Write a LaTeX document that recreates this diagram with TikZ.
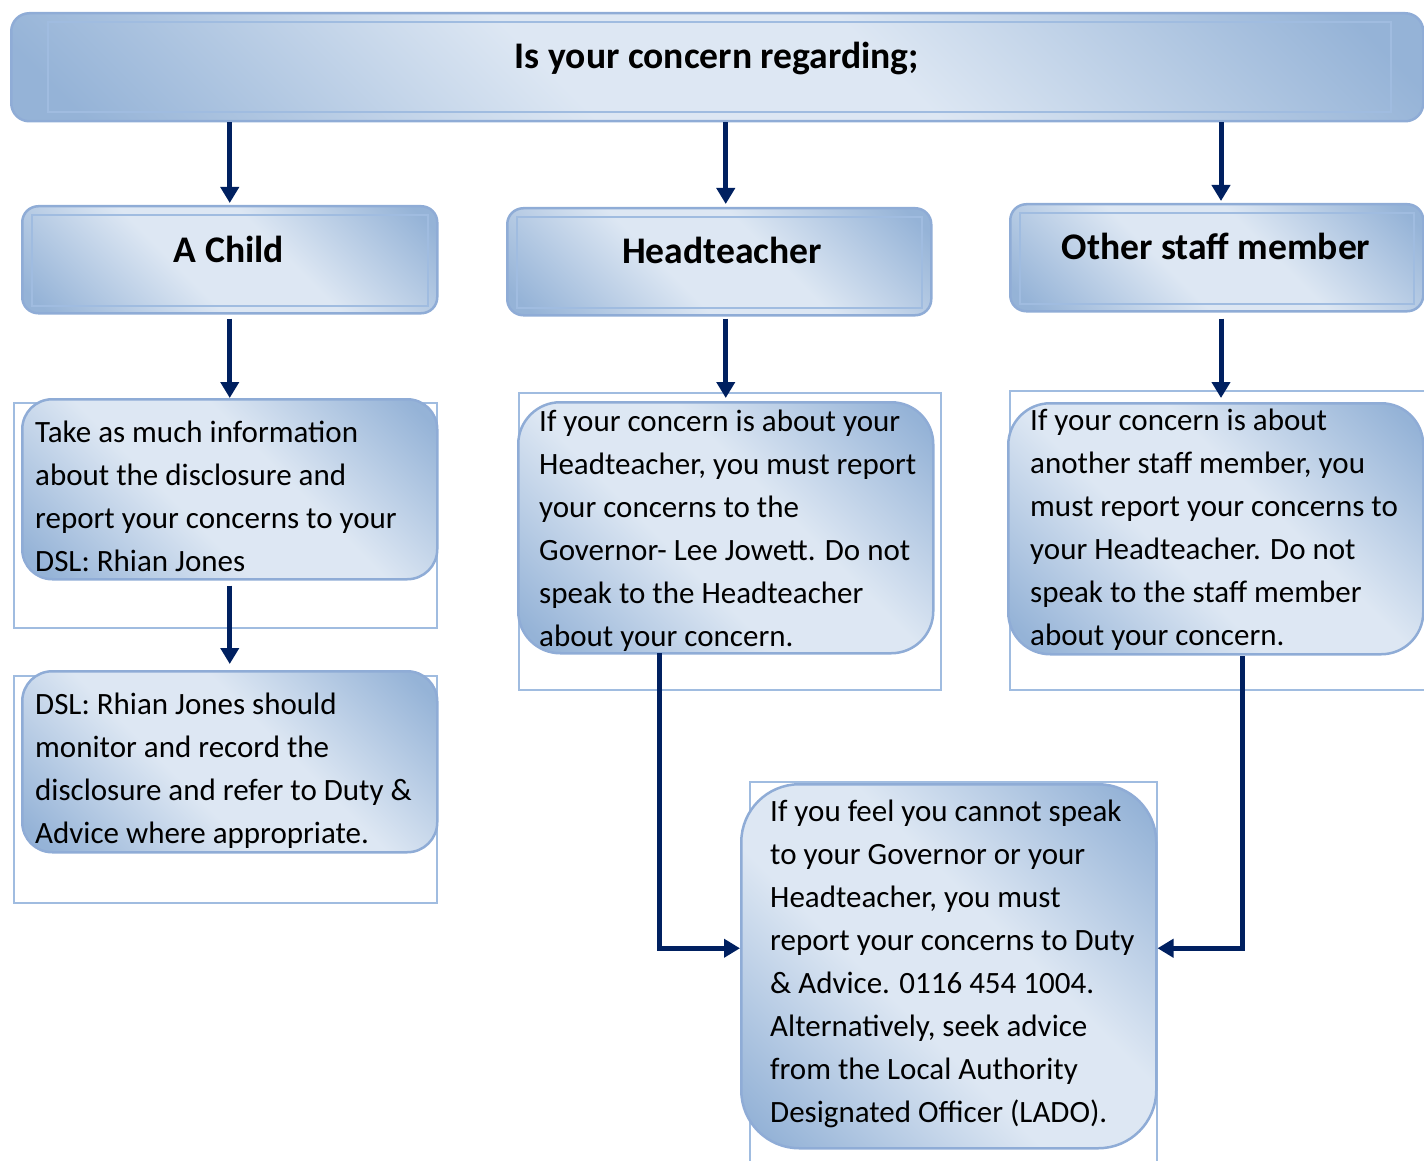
\documentclass[tikz,border=0pt]{standalone}
\usepackage{fontspec}
\setmainfont{Carlito}
\usepackage{xcolor}
\usepackage{tikz}
\usetikzlibrary{arrows.meta}

\definecolor{bdark}{RGB}{149,179,215}
\definecolor{blight}{RGB}{221,231,243}
\definecolor{bline}{RGB}{143,172,214}
\definecolor{bframe}{RGB}{160,188,224}
\definecolor{navy}{RGB}{0,32,96}

\pgfdeclarehorizontalshading{glossblue}{100bp}{color(0bp)=(bdark); color(18bp)=(bdark); color(42bp)=(blight); color(58bp)=(blight); color(82bp)=(bdark); color(100bp)=(bdark)}

\begin{document}
\begin{tikzpicture}[x=1pt, y=-1pt,
  glassbox/.style={draw=bline, line width=2.5pt, shading=glossblue, shading angle=45,
    inner sep=0pt, anchor=north west},
  framebox/.style={draw=bframe, line width=2pt, inner sep=0pt, anchor=north west},
  innerline/.style={draw=bframe, line width=2pt},
  hdrtext/.style={font=\fontsize{37.6}{44}\selectfont\bfseries, inner sep=0pt, anchor=base},
  bodytext/.style={font=\fontsize{31}{43}\selectfont, align=left, inner sep=0pt, anchor=base west},
  flow/.style={draw=navy, line width=5pt, -{Triangle[width=18pt,length=16pt]}}]
\useasboundingbox (0,0) rectangle (1424,1161);

% top banner
\node[glassbox, rounded corners=18pt, minimum width=1412pt, minimum height=108pt] (top) at (10,12) {};
\draw[innerline] ([shift={(38,10)}]top.north west) rectangle ([shift={(-34,-10)}]top.south east);
\node[hdrtext] (toplbl) at (717,69) {Is your concern regarding;};

% second row
\node[glassbox, rounded corners=16pt, minimum width=415pt, minimum height=107pt] (childhdr) at (21,205) {};
\draw[innerline] ([shift={(11,10)}]childhdr.north west) rectangle ([shift={(-11,-9)}]childhdr.south east);
\node[hdrtext] (childlbl) at (229,262) {A Child};

\node[glassbox, rounded corners=16pt, minimum width=424pt, minimum height=107pt] (hthdr) at (506,207) {};
\draw[innerline] ([shift={(11,10)}]hthdr.north west) rectangle ([shift={(-11,-9)}]hthdr.south east);
\node[hdrtext] (htlbl) at (722,263) {Headteacher};

\node[glassbox, rounded corners=16pt, minimum width=413pt, minimum height=107pt] (othhdr) at (1009,203) {};
\draw[innerline] ([shift={(11,10)}]othhdr.north west) rectangle ([shift={(-11,-9)}]othhdr.south east);
\node[hdrtext] (othlbl) at (1216,259) {Other staff member};

% text frames
\node[framebox, minimum width=423pt, minimum height=225pt] (childframe) at (13,402) {};
\node[framebox, minimum width=423pt, minimum height=227pt] (dslframe) at (13,675) {};
\node[framebox, minimum width=422pt, minimum height=297pt] (htframe) at (518,392) {};
\node[framebox, minimum width=422pt, minimum height=299pt] (othframe) at (1009,390) {};
\node[framebox, minimum width=407pt, minimum height=400pt] (ladoframe) at (749,781) {};

% text boxes (text placed at the baseline of its last line)
\node[glassbox, rounded corners=30pt, minimum width=415pt, minimum height=180pt] (childbox) at (21,398) {};
\node[bodytext] (childtxt) at (35,571) {Take as much information\\about the disclosure and\\report your concerns to your\\DSL: Rhian Jones};

\node[glassbox, rounded corners=30pt, minimum width=415pt, minimum height=181pt] (dslbox) at (21,670) {};
\node[bodytext] (dsltxt) at (35,843) {DSL: Rhian Jones should\\monitor and record the\\disclosure and refer to Duty \&\\Advice where appropriate.};

\node[glassbox, rounded corners=42pt, minimum width=415pt, minimum height=251pt] (htbox) at (517,401) {};
\node[bodytext] (httxt) at (539,646) {If your concern is about your\\Headteacher, you must report\\your concerns to the\\Governor- Lee Jowett. Do not\\speak to the Headteacher\\about your concern.};

\node[glassbox, rounded corners=42pt, minimum width=415pt, minimum height=251pt] (othbox) at (1007,402) {};
\node[bodytext] (othtxt) at (1030,645) {If your concern is about\\another staff member, you\\must report your concerns to\\your Headteacher. Do not\\speak to the staff member\\about your concern.};

\node[glassbox, rounded corners=58pt, minimum width=415pt, minimum height=364pt] (lado) at (740,783) {};
\node[bodytext] (ladotxt) at (770,1122) {If you feel you cannot speak\\to your Governor or your\\Headteacher, you must\\report your concerns to Duty\\\& Advice. 0116 454 1004.\\Alternatively, seek advice\\from the Local Authority\\Designated Officer (LADO).};

% connectors
\draw[flow] (top.south -| childhdr.north) -- ([yshift=2pt]childhdr.north);
\draw[flow] (top.south -| htbox.north) -- ([yshift=3pt]hthdr.north -| htbox.north);
\draw[flow] (top.south -| othframe.north) -- ([yshift=2pt]othhdr.north -| othframe.north);

\draw[flow, shorten <=4pt] (childhdr.south) -- (childbox.north);
\draw[flow, shorten <=2pt] (hthdr.south -| htbox.north) -- ([yshift=3pt]htbox.north);
\draw[flow, shorten <=6pt] (othhdr.south -| othframe.north) -- ([yshift=4pt]othbox.north -| othframe.north);
\draw[flow, shorten <=5pt] (childbox.south) -- ([yshift=6pt]dslbox.north);

\coordinate (htout) at (659,653);
\coordinate (othout) at (1242,656);
\draw[flow] (htout) |- ([yshift=18pt]lado.west);
\draw[flow] (othout) |- ([yshift=18pt]lado.east);
\end{tikzpicture}
\end{document}
